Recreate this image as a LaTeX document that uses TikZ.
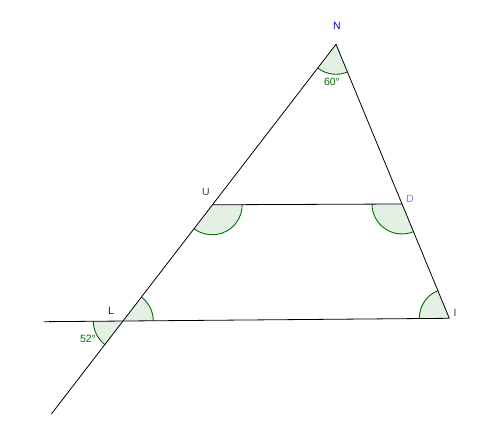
\documentclass[tikz,border=0pt]{standalone}
\usepackage{fontspec}
\setmainfont{Liberation Sans}
\usetikzlibrary{angles}
\definecolor{angfill}{RGB}{229,240,229}
\definecolor{angline}{RGB}{0,110,0}
\definecolor{ptblue}{RGB}{0,0,230}
\definecolor{ptgray}{RGB}{68,68,68}
\definecolor{ptlight}{RGB}{120,120,255}
\tikzset{
  seg/.style={line width=0.8pt, black},
  ang/.style={fill=angfill, draw=angline, line width=0.9pt, angle radius=30pt},
  lbl/.style={font=\fontsize{10.5}{12}\selectfont, inner sep=0pt},
  anglbl/.style={lbl, text=angline}
}
\begin{document}
\begin{tikzpicture}[x=1pt,y=1pt]
\useasboundingbox (0,0) rectangle (480,422);
\fill[white] (0,0) rectangle (480,422);
\coordinate (N) at (336,377.7);
\coordinate (L) at (123.3,101);
\coordinate (I) at (449.3,103.7);
\coordinate (U) at (212.2,217.2);
\coordinate (D) at (402,218);
\coordinate (E) at (44,100.3);
\coordinate (B) at (51.4,8);
% angle sectors
\pic[ang] {angle = L--N--I};
\pic[ang] {angle = L--U--D};
\pic[ang] {angle = U--D--I};
\pic[ang] {angle = N--I--L};
\pic[ang] {angle = I--L--N};
\pic[ang] {angle = E--L--B};
% segments
\draw[seg] (N) -- (B);
\draw[seg] (N) -- (I);
\draw[seg] (E) -- (I);
\draw[seg] (U) -- (D);
% labels
\node[lbl, text=ptblue] (nN) at (337,396) {N};
\node[lbl, text=ptgray] (nU) at (206,230) {U};
\node[lbl, text=ptlight] (nD) at (410,223) {D};
\node[lbl, text=ptblue] (nL) at (111,111) {L};
\node[lbl, text=ptgray] (nI) at (455,109) {I};
\node[anglbl] (a60) at (332,340) {60°};
\node[anglbl] (a52) at (88,83) {52°};
\end{tikzpicture}
\end{document}
